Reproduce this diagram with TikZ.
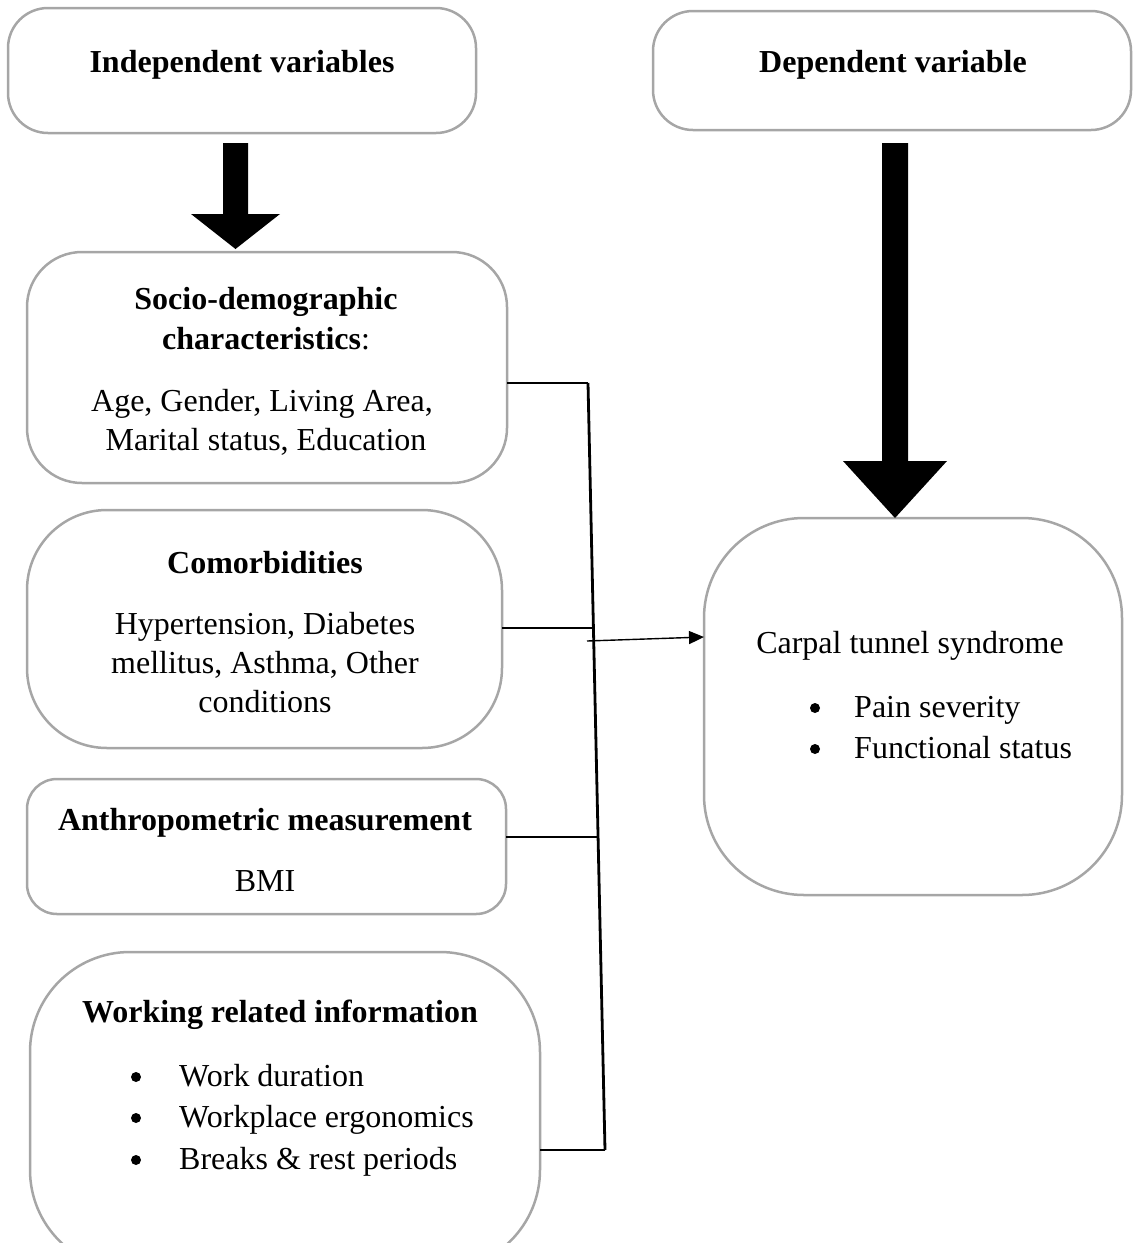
\documentclass[tikz,border=0pt]{standalone}
\usepackage{fontspec}
\setmainfont{Liberation Serif}
\usetikzlibrary{arrows.meta}
\definecolor{boxgray}{HTML}{A6A6A6}
\begin{document}
\begin{tikzpicture}[x=1pt,y=-1pt,
  box/.style={draw=boxgray, line width=2.5pt, inner sep=0pt, outer sep=0pt, rectangle},
  txt/.style={anchor=base, inner sep=0pt, font=\fontsize{32}{40}\selectfont},
  ltxt/.style={anchor=base west, inner sep=0pt, font=\fontsize{32}{40}\selectfont},
  btxt/.style={anchor=base, inner sep=0pt, font=\fontsize{32}{40}\selectfont\bfseries},
  bul/.style={circle, fill=black, inner sep=0pt, minimum size=10pt},
  conn/.style={draw=black, line width=1.4pt},
  bus/.style={draw=black, line width=2.8pt},
  blockarrow/.style={fill=black}]
\useasboundingbox (0,0) rectangle (1134,1243);
\clip (0,0) rectangle (1134,1243);

% boxes
\node[box, rounded corners=40pt, minimum width=468pt, minimum height=125pt] (indep) at (242,70.5) {};
\node[box, rounded corners=40pt, minimum width=478pt, minimum height=119pt] (dep) at (892,70.5) {};
\node[box, rounded corners=55pt, minimum width=480pt, minimum height=231pt] (socio) at (267,367.5) {};
\node[box, rounded corners=80pt, minimum width=475pt, minimum height=238pt] (comorb) at (264.5,629) {};
\node[box, rounded corners=30pt, minimum width=479pt, minimum height=135pt] (anthro) at (266.5,846.5) {};
\node[box, rounded corners=100pt, minimum width=510pt, minimum height=318pt] (work) at (285,1111) {};
\node[box, rounded corners=100pt, minimum width=418pt, minimum height=377pt] (carpal) at (913,706.5) {};

% texts
\node[btxt] (tindep) at (242,72) {Independent variables};
\node[btxt] (tdep) at (893,72) {Dependent variable};

\node[btxt] (ts1) at (266,309) {Socio-demographic};
\node[txt] (ts2) at (266,349) {\textbf{characteristics}:};
\node[txt] (ts3) at (262,411) {Age, Gender, Living Area,};
\node[txt] (ts4) at (266,450) {Marital status, Education};

\node[btxt] (tc1) at (265,573) {Comorbidities};
\node[txt] (tc2) at (265,634) {Hypertension, Diabetes};
\node[txt] (tc3) at (265,673) {mellitus, Asthma, Other};
\node[txt] (tc4) at (265,712) {conditions};

\node[btxt] (ta1) at (265,830) {Anthropometric measurement};
\node[txt] (ta2) at (265,891) {BMI};

\node[btxt] (tw1) at (280,1022) {Working related information};
\node[bul] (wb1) at (136,1077) {};
\node[bul] (wb2) at (136,1118) {};
\node[bul] (wb3) at (136,1160) {};
\node[ltxt] (tw2) at (179,1086) {Work duration};
\node[ltxt] (tw3) at (179,1127) {Workplace ergonomics};
\node[ltxt] (tw4) at (179,1169) {Breaks \& rest periods};

\node[txt] (tp1) at (910,653) {Carpal tunnel syndrome};
\node[bul] (pb1) at (815,708) {};
\node[bul] (pb2) at (815,749) {};
\node[ltxt] (tp2) at (854,717) {Pain severity};
\node[ltxt] (tp3) at (854,758) {Functional status};

% block arrows
\fill[blockarrow] (223,143) -- (248,143) -- (248,214) -- (280,214) -- (235.5,249)
  -- (191,214) -- (223,214) -- cycle;
\fill[blockarrow] (882,143) -- (908,143) -- (908,461) -- (947,461) -- (895,518)
  -- (843,461) -- (882,461) -- cycle;

% connectors
\coordinate (bt) at (588,383);
\coordinate (bb) at (605,1150);
\coordinate (c2) at (593,628);
\coordinate (c3) at (597,837);
\coordinate (a1) at (587,641);
\coordinate (a2) at (706,637);
\draw[conn] (socio.east |- bt) -- (bt);
\draw[conn] (comorb.east |- c2) -- (c2);
\draw[conn] (anthro.east |- c3) -- (c3);
\draw[conn] (work.east |- bb) -- (bb);
\draw[bus] (bt) -- (bb);
\draw[conn, -{Triangle[length=15pt,width=13pt]}] (a1) -- (carpal.west |- a2);
\end{tikzpicture}
\end{document}
